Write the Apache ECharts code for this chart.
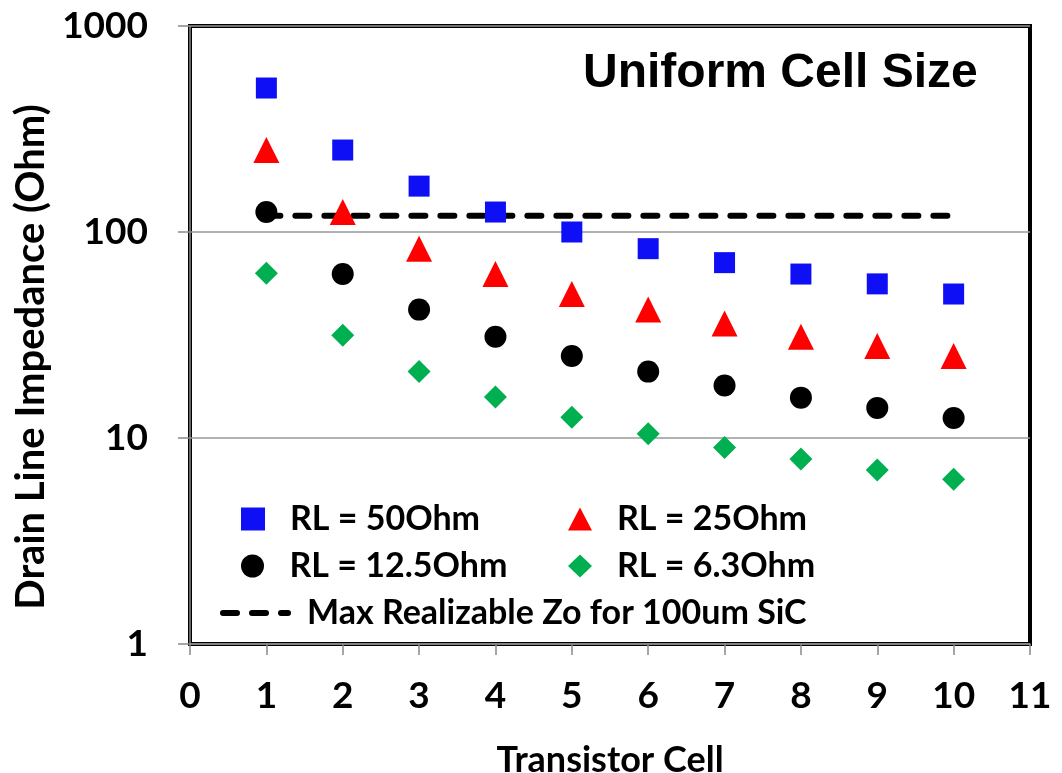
<!DOCTYPE html>
<html>
<head>
<meta charset="utf-8">
<script src="https://cdn.jsdelivr.net/npm/echarts@6/dist/echarts.min.js"></script>
<style>
    html, body {margin: 0; padding: 0; background: #fff;}
    #chart {width: 1062px; height: 773px;}
</style>
</head>
<body>
<div id="chart"></div>
<script>
const cells = [1, 2, 3, 4, 5, 6, 7, 8, 9, 10];
const rl50 = [500, 250, 167, 125, 100, 83, 71, 62.5, 56, 50];
const rl25 = [250, 125, 83, 62.5, 50, 42, 36, 31, 28, 25];
const rl125 = [125, 62.5, 42, 31, 25, 21, 18, 15.7, 14, 12.5];
const rl63 = [63, 31.5, 21, 15.8, 12.6, 10.5, 9, 7.9, 7, 6.3];
const maxZoCells = [1, 10];
const maxZo = [120, 120];
const xTicks = [0, 1, 2, 3, 4, 5, 6, 7, 8, 9, 10, 11];
const yTicks = [1, 10, 100, 1000];

const names = ['RL = 50Ohm', 'RL = 25Ohm', 'RL = 12.5Ohm', 'RL = 6.3Ohm', 'Max Realizable Zo for 100um SiC'];
const font = 'Lato';
const pairs = (xs, ys) => xs.map((x, i) => [x, ys[i]]);
const dash = {color: '#000', width: 6, type: [14, 15], cap: 'round'};

const scatter = (name, values, symbol, size, color) => ({
    name,
    type: 'scatter',
    data: pairs(cells, values),
    symbol,
    symbolSize: size,
    itemStyle: {color, opacity: 1},
    z: 3,
});

const legendText = {fontFamily: font, fontWeight: 'bold', fontSize: 34, color: '#000'};
// one legend per cell so the two columns line up
const markerLegend = (name, left, top) => ({
    data: [name],
    left,
    top,
    padding: 0,
    itemWidth: 24,
    itemHeight: 23,
    textStyle: {...legendText, padding: [0, 0, 0, 20]},
});

const chart = echarts.init(document.getElementById('chart'));
chart.setOption({
    animation: false,
    grid: {
        left: 190,
        right: 32,
        top: 26,
        bottom: 129,
        outerBoundsMode: 'none',
        show: true,
        borderColor: '#000',
        borderWidth: 4,
        backgroundColor: 'transparent',
    },
    xAxis: {
        type: 'value',
        min: 0,
        max: 11,
        interval: 1,
        name: 'Transistor Cell',
        nameLocation: 'middle',
        nameGap: 98,
        nameTextStyle: {fontFamily: font, fontWeight: 'bold', fontSize: 36, color: '#000'},
        axisLine: {show: true, lineStyle: {color: '#888', width: 1.5}},
        axisTick: {show: true, length: 11, lineStyle: {color: '#888', width: 1.5}},
        axisLabel: {
            margin: 34,
            fontFamily: font,
            fontWeight: 'bold',
            fontSize: 37,
            color: '#000',
            formatter: v => (xTicks.includes(v) ? String(v) : ''),
        },
        splitLine: {show: false},
    },
    yAxis: {
        type: 'log',
        logBase: 10,
        min: 1,
        max: 1000,
        name: 'Drain Line Impedance (Ohm)',
        nameLocation: 'middle',
        nameGap: 136,
        nameTextStyle: {fontFamily: font, fontWeight: 'bold', fontSize: 40, color: '#000', padding: [0, 44, 0, 0]},
        axisLine: {show: true, lineStyle: {color: '#888', width: 1.5}},
        axisTick: {show: true, length: 12, lineStyle: {color: '#888', width: 1.5}},
        axisLabel: {
            margin: 42,
            fontFamily: font,
            fontWeight: 'bold',
            fontSize: 37,
            color: '#000',
            formatter: v => (yTicks.includes(v) ? String(v) : ''),
        },
        splitLine: {show: true, lineStyle: {color: '#999', width: 1.5}},
    },
    legend: [
        markerLegend(names[0], 241, 502),
        markerLegend(names[1], 568, 502),
        markerLegend(names[2], 241, 549),
        markerLegend(names[3], 568, 549),
        {
            data: [names[4]],
            left: 220,
            top: 596,
            padding: 0,
            itemWidth: 65,
            itemHeight: 22,
            itemStyle: {color: 'transparent', borderColor: 'transparent'},
            lineStyle: dash,
            textStyle: {...legendText, padding: [0, 0, 0, 14]},
        },
    ],
    graphic: [
        {
            type: 'text',
            left: 583,
            top: 50,
            style: {
                text: 'Uniform Cell Size',
                font: 'bold 48px "Liberation Sans", Arial, sans-serif',
                fill: '#000',
            },
        },
    ],
    series: [
        {
            name: names[4],
            type: 'line',
            data: pairs(maxZoCells, maxZo),
            symbol: 'none',
            lineStyle: dash,
            itemStyle: {color: '#000'},
            z: 2,
        },
        scatter(names[0], rl50, 'rect', 21, '#0F0FF5'),
        scatter(names[1], rl25, 'triangle', 26, '#FF0000'),
        scatter(names[2], rl125, 'circle', 22, '#000000'),
        scatter(names[3], rl63, 'diamond', 23, '#00B050'),
    ],
});
</script>
</body>
</html>
